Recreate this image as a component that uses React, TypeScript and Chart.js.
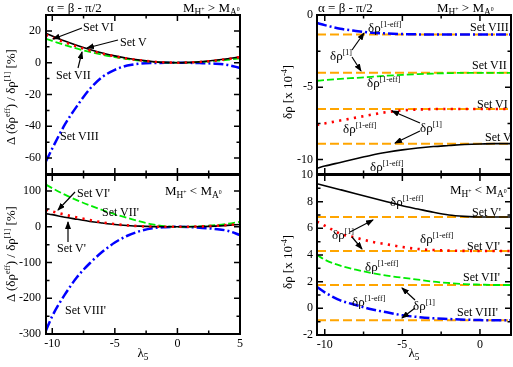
import React, { useEffect, useRef } from 'react';
import { Chart, registerables } from 'chart.js';
Chart.register(...registerables);

// ---------- data ----------
const LAMBDA_L = [-10.5, -10, -9, -8, -7, -6, -5, -4, -3, -2, -1, 0, 1, 2, 3, 4, 5];
const LAMBDA_R = [-10.5, -10, -9, -8, -7, -6, -5, -4, -3, -2, -1, 0, 1, 2];

// top-left: Delta(drho_eff)/drho[1] [%], M_H+ > M_A0
const TL_V = [18.5, 16.8, 13.6, 10.8, 8.3, 6.1, 4.3, 2.8, 1.6, 0.7, 0.2, 0, 0.2, 0.7, 1.5, 2.5, 3.7];
const TL_VI = [17.5, 15.9, 12.8, 10.1, 7.7, 5.7, 4.0, 2.6, 1.5, 0.7, 0.2, 0, 0.2, 0.6, 1.3, 2.3, 3.5];
const TL_VII = [15, 13.7, 11.1, 8.8, 6.8, 5.0, 3.5, 2.3, 1.3, 0.6, 0.1, 0, 0.1, 0.5, 1.1, 1.8, 2.7];
const TL_VIII = [-62, -54, -39, -27, -16.5, -9, -4.5, -1.8, -0.6, -0.2, -0.1, -0.1, -0.1, -0.3, -0.6, -1.4, -3.3];

// bottom-left: M_H+ < M_A0
const BL_V = [37, 34, 27, 21, 15, 10.5, 6.5, 3.8, 1.8, 0.6, 0.1, 0, 0.2, 0.8, 2, 4, 6.5];
const BL_VI = [48, 43, 34, 26, 19, 12.5, 7.5, 4, 1.8, 0.6, 0.1, 0, 0.3, 1.2, 2.8, 5, 8];
const BL_VII = [118, 108, 90, 74, 60, 47, 35, 25, 15, 7, 2, 0, 0.5, 2, 4.5, 8.5, 14];
const BL_VIII = [-290, -250, -190, -140, -102, -70, -44, -25, -12, -4, -1, 0, -1, -3, -6, -11, -23];

// top-right: drho [x 1e-4], M_H+ > M_A0
const TR_V = [-10.6, -10.45, -10.2, -9.95, -9.7, -9.5, -9.33, -9.2, -9.1, -9.03, -8.96, -8.92, -8.9, -8.9];
const TR_VI = [-7.6, -7.5, -7.3, -7.1, -6.9, -6.72, -6.6, -6.54, -6.51, -6.5, -6.5, -6.5, -6.5, -6.5];
const TR_VII = [-4.55, -4.5, -4.42, -4.35, -4.28, -4.2, -4.14, -4.09, -4.05, -4.02, -4.0, -4.0, -4.0, -4.0];
const TR_VIII = [-0.55, -0.7, -0.95, -1.1, -1.22, -1.28, -1.32, -1.34, -1.35, -1.35, -1.35, -1.35, -1.35, -1.35];
const TR_ONE = [-8.9, -6.5, -4.0, -1.35]; // drho[1] for Set V, VI, VII, VIII

// bottom-right: M_H+ < M_A0
const BR_V = [9.35, 9.2, 8.9, 8.6, 8.3, 8.0, 7.7, 7.45, 7.2, 7.0, 6.9, 6.85, 6.85, 6.85];
const BR_VI = [6.5, 6.2, 5.6, 5.3, 5.0, 4.8, 4.6, 4.45, 4.37, 4.33, 4.31, 4.3, 4.3, 4.3];
const BR_VII = [4.0, 3.65, 3.2, 2.9, 2.65, 2.45, 2.3, 2.15, 2.0, 1.9, 1.82, 1.78, 1.75, 1.75];
const BR_VIII = [1.6, 1.2, 0.6, 0.25, -0.07, -0.3, -0.52, -0.65, -0.75, -0.8, -0.85, -0.88, -0.9, -0.9];
const BR_ONE = [6.85, 4.3, 1.75, -0.9];

// ticks
const XL_MAJOR = [-10, -5, 0, 5];
const XL_MINOR = [-7.5, -2.5, 2.5];
const XR_MAJOR = [-10, -5, 0];
const XR_MINOR = [-7.5, -2.5];
const TL_Y_MAJOR = [-60, -40, -20, 0, 20];
const TL_Y_MINOR = [-50, -30, -10, 10];
const BL_Y_MAJOR = [-300, -200, -100, 0, 100];
const BL_Y_MINOR = [-250, -150, -50, 50];
const TR_Y_MAJOR = [-10, -5, 0];
const TR_Y_MINOR = [-7.5, -2.5];
const BR_Y_MAJOR = [-2, 0, 2, 4, 6, 8, 10];
const BR_Y_MINOR = [-1, 1, 3, 5, 7, 9];

// ---------- styles ----------
const SERIF = "'Liberation Serif', 'Times New Roman', serif";
const BLACK = '#000000';
const RED = 'rgb(255,0,0)';
const GREEN = 'rgb(0,235,0)';
const BLUE = 'rgb(0,0,255)';
const ORANGE = 'rgb(255,165,0)';

const pts = (xs: number[], ys: number[]) => xs.map((x, i) => ({ x, y: ys[i] }));

const styleV = { borderColor: BLACK, borderWidth: 1.6 };
const styleVI = { borderColor: RED, borderWidth: 2.6, borderDash: [2.2, 5.3] };
const styleVII = { borderColor: GREEN, borderWidth: 1.8, borderDash: [7, 3] };
const styleVIII = { borderColor: BLUE, borderWidth: 2.5, borderDash: [10, 3, 2, 3] };
const styleOne = { borderColor: ORANGE, borderWidth: 2, borderDash: [9, 4] };

function curve(xs: number[], ys: number[], style: any) {
  return {
    data: pts(xs, ys),
    pointRadius: 0,
    fill: false,
    cubicInterpolationMode: 'monotone',
    ...style,
  };
}

function flat(xs: number[], v: number) {
  return {
    data: [
      { x: xs[0], y: v },
      { x: xs[xs.length - 1], y: v },
    ],
    pointRadius: 0,
    fill: false,
    ...styleOne,
  };
}

type PanelProps = {
  left: number; top: number; width: number; height: number;
  padTop: number; padRight: number; yw: number; xh: number;
  xMin: number; xMax: number; yMin: number; yMax: number;
  xMajor: number[]; xMinor: number[]; yMajor: number[]; yMinor: number[];
  showX: boolean; datasets: any[]; yPad: number;
};

function Panel(p: PanelProps) {
  const ref = useRef<HTMLCanvasElement>(null);
  useEffect(() => {
    if (!ref.current) return;
    const frame = {
      id: 'frameTicks',
      afterDatasetsDraw(chart: any) {
        const { ctx, chartArea: a } = chart;
        const xs = chart.scales.x;
        const ys = chart.scales.y;
        ctx.save();
        ctx.strokeStyle = '#000';
        ctx.lineWidth = 1.5;
        ctx.setLineDash([]);
        ctx.beginPath();
        const dx = (vals: number[], len: number) =>
          vals.forEach((v) => {
            const q = xs.getPixelForValue(v);
            ctx.moveTo(q, a.bottom);
            ctx.lineTo(q, a.bottom - len);
            ctx.moveTo(q, a.top);
            ctx.lineTo(q, a.top + len);
          });
        const dy = (vals: number[], len: number) =>
          vals.forEach((v) => {
            const q = ys.getPixelForValue(v);
            ctx.moveTo(a.left, q);
            ctx.lineTo(a.left + len, q);
            ctx.moveTo(a.right, q);
            ctx.lineTo(a.right - len, q);
          });
        dx(p.xMajor, 6);
        dx(p.xMinor, 3.5);
        dy(p.yMajor, 6);
        dy(p.yMinor, 3.5);
        ctx.stroke();
        ctx.lineWidth = 2;
        ctx.strokeRect(a.left, a.top, a.right - a.left, a.bottom - a.top);
        ctx.restore();
      },
    };
    const font = { family: SERIF, size: 12 };
    const chart = new Chart(ref.current, {
      type: 'line',
      data: { datasets: p.datasets },
      plugins: [frame],
      options: {
        animation: false,
        responsive: false,
        maintainAspectRatio: false,
        layout: { padding: { left: 0, top: p.padTop, right: p.padRight, bottom: 0 } },
        plugins: { legend: { display: false }, tooltip: { enabled: false } },
        scales: {
          x: {
            type: 'linear',
            min: p.xMin,
            max: p.xMax,
            grid: { display: false, drawTicks: false },
            border: { display: false },
            ticks: {
              display: p.showX,
              color: '#000',
              font,
              padding: 3,
              maxRotation: 0,
              autoSkip: false,
              callback: (v: any) => String(v),
            },
            afterBuildTicks: (s: any) => {
              s.ticks = p.xMajor.map((v) => ({ value: v }));
            },
            afterFit: (s: any) => {
              s.height = p.xh;
              s.paddingLeft = 0;
              s.paddingRight = 0;
            },
          },
          y: {
            type: 'linear',
            min: p.yMin,
            max: p.yMax,
            grid: { display: false, drawTicks: false },
            border: { display: false },
            ticks: {
              color: '#000',
              font,
              padding: p.yPad,
              autoSkip: false,
              callback: (v: any) => String(v),
            },
            afterBuildTicks: (s: any) => {
              s.ticks = p.yMajor.map((v) => ({ value: v }));
            },
            afterFit: (s: any) => {
              s.width = p.yw;
              s.paddingTop = 0;
              s.paddingBottom = 0;
            },
          },
        },
      } as any,
    });
    return () => chart.destroy();
  }, []);
  return (
    <canvas
      ref={ref}
      width={p.width}
      height={p.height}
      style={{ position: 'absolute', left: p.left, top: p.top, width: p.width, height: p.height }}
    />
  );
}

// ---------- text helpers ----------
const Sup = ({ children }: any) => (
  <span style={{ fontSize: '0.62em', position: 'relative', top: '-0.62em' }}>{children}</span>
);
const Sub = ({ children }: any) => (
  <span style={{ fontSize: '0.72em', position: 'relative', top: '0.38em' }}>{children}</span>
);

function Txt({ x, cy, size = 12, center = false, children }: any) {
  return (
    <div
      style={{
        position: 'absolute',
        left: x,
        top: cy - size / 2,
        fontFamily: SERIF,
        fontSize: size,
        lineHeight: `${size}px`,
        whiteSpace: 'nowrap',
        color: '#000',
        transform: center ? 'translateX(-50%)' : undefined,
      }}
    >
      {children}
    </div>
  );
}

function VTitle({ cx, cy, children }: any) {
  const w = 160;
  const h = 16;
  return (
    <div
      style={{
        position: 'absolute',
        left: cx - w / 2,
        top: cy - h / 2,
        width: w,
        height: h,
        lineHeight: `${h}px`,
        textAlign: 'center',
        fontFamily: SERIF,
        fontSize: 13,
        whiteSpace: 'nowrap',
        transform: 'rotate(-90deg)',
        color: '#000',
      }}
    >
      {children}
    </div>
  );
}

const DrEff = () => (
  <>
    δρ<Sup>[1-eff]</Sup>
  </>
);
const DrOne = () => (
  <>
    δρ<Sup>[1]</Sup>
  </>
);
const MGreater = () => (
  <>
    M<Sub>H<Sup>+</Sup></Sub> &gt; M<Sub>A<Sup>0</Sup></Sub>
  </>
);
const MLess = () => (
  <>
    M<Sub>H<Sup>+</Sup></Sub> &lt; M<Sub>A<Sup>0</Sup></Sub>
  </>
);
const Lambda5 = () => (
  <>
    λ<Sub>5</Sub>
  </>
);

// arrows: [x1, y1, x2 (head), y2 (head)]
const ARROWS = [
  [82, 28, 53, 39],
  [118, 40, 87, 48],
  [78, 68, 82, 52],
  [75, 192, 58, 210],
  [68, 242, 68, 222],
  [352, 50, 364, 33],
  [352, 57, 361, 71],
  [420, 123, 392, 111],
  [420, 131, 395, 143],
  [350, 232, 373, 220],
  [352, 237, 362, 249],
  [415, 300, 402, 288],
  [415, 308, 402, 318],
];

export default function App() {
  return (
    <div style={{ position: 'absolute', left: 0, top: 0, width: 513, height: 367, background: '#fff', overflow: 'hidden' }}>
      <Panel
        left={0} top={0} width={250} height={180} padTop={15} padRight={10} yw={46} xh={6} yPad={5}
        xMin={-10.5} xMax={5} yMin={-70} yMax={30}
        xMajor={XL_MAJOR} xMinor={XL_MINOR} yMajor={TL_Y_MAJOR} yMinor={TL_Y_MINOR} showX={false}
        datasets={[
          curve(LAMBDA_L, TL_VI, styleVI),
          curve(LAMBDA_L, TL_V, styleV),
          curve(LAMBDA_L, TL_VII, styleVII),
          curve(LAMBDA_L, TL_VIII, styleVIII),
        ]}
      />
      <Panel
        left={0} top={160} width={250} height={207} padTop={15} padRight={10} yw={46} xh={33} yPad={5}
        xMin={-10.5} xMax={5} yMin={-300} yMax={145}
        xMajor={XL_MAJOR} xMinor={XL_MINOR} yMajor={BL_Y_MAJOR} yMinor={BL_Y_MINOR} showX={true}
        datasets={[
          curve(LAMBDA_L, BL_VI, styleVI),
          curve(LAMBDA_L, BL_V, styleV),
          curve(LAMBDA_L, BL_VII, styleVII),
          curve(LAMBDA_L, BL_VIII, styleVIII),
        ]}
      />
      <Panel
        left={270} top={0} width={243} height={180} padTop={15} padRight={2} yw={47} xh={6} yPad={4}
        xMin={-10.5} xMax={2} yMin={-11} yMax={0}
        xMajor={XR_MAJOR} xMinor={XR_MINOR} yMajor={TR_Y_MAJOR} yMinor={TR_Y_MINOR} showX={false}
        datasets={[
          curve(LAMBDA_R, TR_V, styleV),
          curve(LAMBDA_R, TR_VI, styleVI),
          curve(LAMBDA_R, TR_VII, styleVII),
          curve(LAMBDA_R, TR_VIII, styleVIII),
          ...TR_ONE.map((v) => flat(LAMBDA_R, v)),
        ]}
      />
      <Panel
        left={270} top={160} width={243} height={207} padTop={15} padRight={2} yw={47} xh={32} yPad={4}
        xMin={-10.5} xMax={2} yMin={-2} yMax={10}
        xMajor={XR_MAJOR} xMinor={XR_MINOR} yMajor={BR_Y_MAJOR} yMinor={BR_Y_MINOR} showX={true}
        datasets={[
          curve(LAMBDA_R, BR_V, styleV),
          curve(LAMBDA_R, BR_VI, styleVI),
          curve(LAMBDA_R, BR_VII, styleVII),
          curve(LAMBDA_R, BR_VIII, styleVIII),
          ...BR_ONE.map((v) => flat(LAMBDA_R, v)),
        ]}
      />

      <svg width={513} height={367} style={{ position: 'absolute', left: 0, top: 0 }}>
        <defs>
          <marker id="ah" markerWidth="8" markerHeight="6" refX="7" refY="3" orient="auto" markerUnits="userSpaceOnUse">
            <path d="M0,0 L8,3 L0,6 z" fill="#000" />
          </marker>
        </defs>
        {ARROWS.map(([x1, y1, x2, y2], i) => (
          <line key={i} x1={x1} y1={y1} x2={x2} y2={y2} stroke="#000" strokeWidth={1.2} markerEnd="url(#ah)" />
        ))}
      </svg>

      {/* top-left */}
      <Txt x={47} cy={7} size={13}>α = β - π/2</Txt>
      <Txt x={183} cy={7} size={13}><MGreater /></Txt>
      <Txt x={83} cy={27}>Set VI</Txt>
      <Txt x={120} cy={42}>Set V</Txt>
      <Txt x={56} cy={75}>Set VII</Txt>
      <Txt x={60} cy={136}>Set VIII</Txt>
      <VTitle cx={11} cy={97}>Δ (δρ<Sup>eff</Sup>) / δρ<Sup>[1]</Sup> [%]</VTitle>

      {/* bottom-left */}
      <Txt x={77} cy={193}>Set VI'</Txt>
      <Txt x={102} cy={212}>Set VII'</Txt>
      <Txt x={57} cy={248}>Set V'</Txt>
      <Txt x={65} cy={310}>Set VIII'</Txt>
      <Txt x={165} cy={190} size={13}><MLess /></Txt>
      <Txt x={143} cy={352} size={13} center><Lambda5 /></Txt>
      <VTitle cx={11} cy={254}>Δ (δρ<Sup>eff</Sup>) / δρ<Sup>[1]</Sup> [%]</VTitle>

      {/* top-right */}
      <Txt x={318} cy={7} size={13}>α = β - π/2</Txt>
      <Txt x={437} cy={7} size={13}><MGreater /></Txt>
      <Txt x={368} cy={27} size={13}><DrEff /></Txt>
      <Txt x={470} cy={27}>Set VIII</Txt>
      <Txt x={330} cy={55} size={13}><DrOne /></Txt>
      <Txt x={472} cy={65}>Set VII</Txt>
      <Txt x={367} cy={82} size={13}><DrEff /></Txt>
      <Txt x={477} cy={104}>Set VI</Txt>
      <Txt x={343} cy={128} size={13}><DrEff /></Txt>
      <Txt x={420} cy={127} size={13}><DrOne /></Txt>
      <Txt x={485} cy={137}>Set V</Txt>
      <Txt x={370} cy={166} size={13}><DrEff /></Txt>
      <VTitle cx={288} cy={92}>δρ [x 10<Sup>-4</Sup>]</VTitle>

      {/* bottom-right */}
      <Txt x={450} cy={189} size={13}><MLess /></Txt>
      <Txt x={390} cy={201} size={13}><DrEff /></Txt>
      <Txt x={472} cy={212}>Set V'</Txt>
      <Txt x={332} cy={234} size={13}><DrOne /></Txt>
      <Txt x={420} cy={238} size={13}><DrEff /></Txt>
      <Txt x={467} cy={246}>Set VI'</Txt>
      <Txt x={365} cy={266} size={13}><DrEff /></Txt>
      <Txt x={463} cy={277}>Set VII'</Txt>
      <Txt x={352} cy={301} size={13}><DrEff /></Txt>
      <Txt x={413} cy={305} size={13}><DrOne /></Txt>
      <Txt x={457} cy={312}>Set VIII'</Txt>
      <Txt x={414} cy={352} size={13} center><Lambda5 /></Txt>
      <VTitle cx={288} cy={262}>δρ [x 10<Sup>-4</Sup>]</VTitle>
    </div>
  );
}
